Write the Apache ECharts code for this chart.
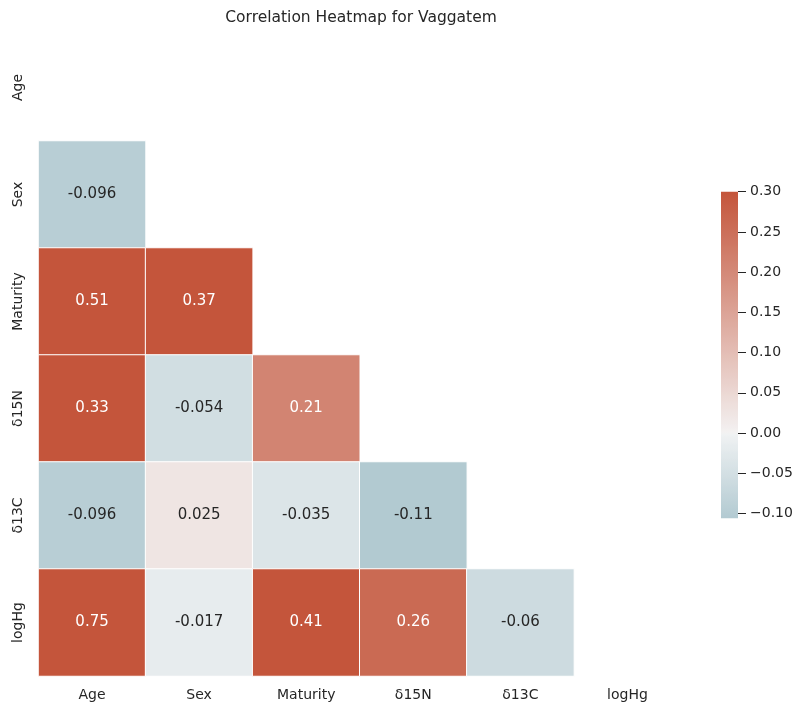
<!DOCTYPE html>
<html>
<head>
<meta charset="utf-8">
<script src="https://cdn.jsdelivr.net/npm/echarts@6/dist/echarts.min.js"></script>
<style>html,body{margin:0;padding:0;background:#fff;}#c{width:797px;height:703px;}</style>
</head>
<body>
<div id="c"></div>
<script>
// ---- data ----
const variables = ['Age', 'Sex', 'Maturity', 'δ15N', 'δ13C', 'logHg'];
const rowSex = [-0.096];
const rowMaturity = [0.51, 0.37];
const rowD15N = [0.33, -0.054, 0.21];
const rowD13C = [-0.096, 0.025, -0.035, -0.106];
const rowLogHg = [0.75, -0.017, 0.41, 0.26, -0.06];
const tickMin = -0.10, tickMax = 0.30, tickStep = 0.05;   // colorbar tick labels
const vMin = -0.106, vMax = 0.30;

// ---- colormap (diverging 230 -> light -> 20, centered at 0, range +-0.3) ----
const B = [63, 127, 147], GB = [240, 242, 243], M = [242, 242, 242], GR = [243, 241, 241], R = [196, 85, 59];
const stops = [[-0.3, B], [-0.0012, GB], [0, M], [0.0012, GR], [0.3, R]];
function cmap(v) {
  v = Math.max(-0.3, Math.min(0.3, v));
  for (let i = 0; i < stops.length - 1; i++) {
    const [a, ca] = stops[i], [b, cb] = stops[i + 1];
    if (v <= b) {
      const t = (v - a) / (b - a);
      return ca.map((c, k) => c + t * (cb[k] - c));
    }
  }
  return R;
}
function toHex(c) { return '#' + c.map(x => Math.round(x).toString(16).padStart(2, '0')).join(''); }
function lum(c) {
  const f = c.map(x => { x /= 255; return x <= 0.03928 ? x / 12.92 : Math.pow((x + 0.055) / 1.055, 2.4); });
  return 0.2126 * f[0] + 0.7152 * f[1] + 0.0722 * f[2];
}
const N = 203;
const rampColors = [], gradStops = [];
for (let i = 0; i <= N; i++) {
  const col = toHex(cmap(vMin + (vMax - vMin) * i / N));
  rampColors.push(col);
  gradStops.push({ offset: 1 - i / N, color: col });
}
gradStops.reverse();

const rows = [[], rowSex, rowMaturity, rowD15N, rowD13C, rowLogHg];
const data = [];
rows.forEach((r, yi) => r.forEach((v, xi) => {
  const c = cmap(Math.min(v, vMax));
  data.push({ value: [xi, yi, v], label: { color: lum(c) > 0.408 ? '#262626' : '#ffffff' } });
}));

// colorbar geometry: value -> pixel mapping fixed by ticks
const cbTop = 191.7, cbBottom = 518.3;
const pxPerUnit = (cbBottom - cbTop) / (vMax - vMin);
const tickTop = cbTop + (vMax - tickMax) * pxPerUnit;
const tickH = (tickMax - tickMin) * pxPerUnit;

const FONT = 'DejaVu Sans';
const chart = echarts.init(document.getElementById('c'), null, { renderer: 'canvas' });
chart.setOption({
  animation: false,
  backgroundColor: '#fff',
  title: {
    text: 'Correlation Heatmap for Vaggatem',
    left: 361, top: 10, textAlign: 'center', padding: 0,
    textStyle: { fontFamily: FONT, fontSize: 15.5, fontWeight: 'normal', color: '#262626' }
  },
  grid: [
    { left: 38.5, top: 34, width: 642.5, height: 642 },
    {
      left: 721, top: cbTop, width: 17, height: cbBottom - cbTop, show: true, borderWidth: 0,
      backgroundColor: { type: 'linear', x: 0, y: 0, x2: 0, y2: 1, colorStops: gradStops }
    },
    { left: 721, top: tickTop, width: 17, height: tickH }
  ],
  xAxis: [
    {
      type: 'category', data: variables, gridIndex: 0,
      axisLine: { show: false }, axisTick: { show: false }, splitLine: { show: false },
      axisLabel: { fontFamily: FONT, fontSize: 14, color: '#262626', margin: 12 }
    },
    { type: 'value', gridIndex: 1, show: false, min: 0, max: 1 },
    { type: 'value', gridIndex: 2, show: false, min: 0, max: 1 }
  ],
  yAxis: [
    {
      type: 'category', data: variables, gridIndex: 0, inverse: true,
      axisLine: { show: false }, axisTick: { show: false }, splitLine: { show: false },
      axisLabel: { fontFamily: FONT, fontSize: 14, color: '#262626', rotate: 90, margin: 13 }
    },
    { type: 'value', gridIndex: 1, show: false, min: vMin, max: vMax },
    {
      type: 'value', gridIndex: 2, position: 'right', min: tickMin, max: tickMax, interval: tickStep,
      axisLine: { show: false, onZero: false }, splitLine: { show: false },
      axisTick: { show: true, length: 8, lineStyle: { color: '#262626', width: 1 } },
      axisLabel: {
        fontFamily: FONT, fontSize: 14, color: '#262626', margin: 12,
        formatter: v => (v < -1e-9 ? '\u2212' : '') + Math.abs(v).toFixed(2)
      }
    }
  ],
  visualMap: {
    type: 'continuous', min: vMin, max: vMax, seriesIndex: 0, show: false,
    inRange: { color: rampColors }
  },
  series: [{
    type: 'heatmap', xAxisIndex: 0, yAxisIndex: 0, data: data,
    itemStyle: { borderColor: '#ffffff', borderWidth: 1 },
    label: {
      show: true, fontFamily: FONT, fontSize: 15,
      formatter: p => String(parseFloat(p.value[2].toPrecision(2)))
    },
    emphasis: { disabled: true }
  }]
});
</script>
</body>
</html>
